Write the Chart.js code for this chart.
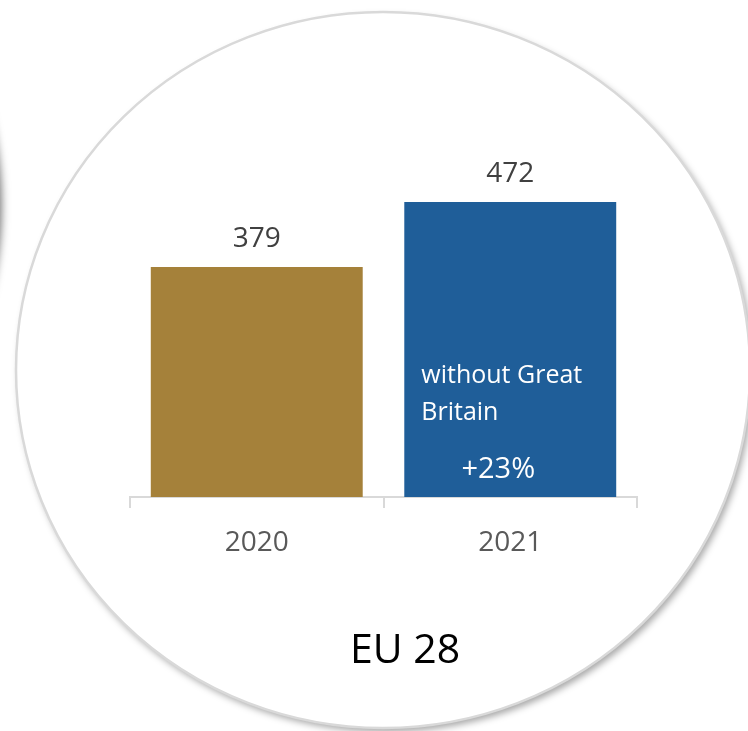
<!DOCTYPE html>
<html lang="en">
    <head>
        <meta charset="UTF-8">
        <title>EU 28</title>
        <script src="https://cdn.jsdelivr.net/npm/chart.js"></script>
        <style>
            body { margin: 0; background: #fff; }
            #wrap { position: absolute; left: 0; top: 0; width: 748px; height: 731px; }
        </style>
    </head>
    <body>
        <div id="wrap"><canvas id="eu"></canvas></div>
    </body>
    <script>
        // Data
        const years = ['2020', '2021'];
        const values = [379, 472];
        const barColors = ['#A5813A', '#1F5E99'];
        const noteLines = ['without Great', 'Britain'];
        const growthText = '+23%';
        const regionTitle = 'EU 28';

        const FONT = '"Open Sans", "Noto Sans", sans-serif';

        // circle backdrop + leftover shadow of the neighbour circle
        const backdrop = {
            id: 'backdrop',
            beforeDraw(chart) {
                const ctx = chart.ctx;
                ctx.save();
                // neighbour circle, just off the left edge
                ctx.shadowColor = 'rgba(0,0,0,0.6)';
                ctx.shadowBlur = 10;
                ctx.shadowOffsetX = 3;
                ctx.beginPath();
                ctx.ellipse(-362, 205, 360, 360, 0, 0, Math.PI * 2);
                ctx.fillStyle = '#fff';
                ctx.fill();
                // main circle
                ctx.shadowColor = 'rgba(0,0,0,0.35)';
                ctx.shadowBlur = 7;
                ctx.shadowOffsetX = 3;
                ctx.shadowOffsetY = 4;
                ctx.beginPath();
                ctx.ellipse(383, 370, 367, 358, 0, 0, Math.PI * 2);
                ctx.fill();
                ctx.shadowColor = 'transparent';
                ctx.lineWidth = 2.5;
                ctx.strokeStyle = '#d9d9d9';
                ctx.stroke();
                ctx.restore();
            }
        };

        // value labels, note inside the 2021 bar, region title
        const labels = {
            id: 'labels',
            afterDatasetsDraw(chart) {
                const ctx = chart.ctx;
                const bars = chart.getDatasetMeta(0).data;
                const bottom = chart.chartArea.bottom;
                ctx.save();
                ctx.textAlign = 'center';
                ctx.textBaseline = 'alphabetic';
                ctx.fillStyle = '#404040';
                ctx.font = '28px ' + FONT;
                bars.forEach((bar, i) => {
                    ctx.fillText(values[i], bar.x, bar.y - 20);
                });

                const last = bars[bars.length - 1];
                ctx.fillStyle = '#ffffff';
                ctx.textAlign = 'left';
                ctx.font = '25px ' + FONT;
                noteLines.forEach((line, i) => {
                    ctx.fillText(line, last.x - last.width / 2 + 17, bottom - 114 + i * 37);
                });
                ctx.textAlign = 'center';
                ctx.font = '29px ' + FONT;
                ctx.fillText(growthText, last.x - 12, bottom - 19);

                ctx.fillStyle = '#000000';
                ctx.font = '41px ' + FONT;
                ctx.fillText(regionTitle, 405, 663);
                ctx.restore();
            }
        };

        new Chart(document.getElementById('eu'), {
            type: 'bar',
            data: {
                labels: years,
                datasets: [{
                    data: values,
                    backgroundColor: barColors,
                    borderWidth: 0,
                    categoryPercentage: 1,
                    barPercentage: 0.836
                }]
            },
            options: {
                responsive: true,
                maintainAspectRatio: false,
                animation: false,
                layout: { padding: { left: 130, right: 111, top: 147.5, bottom: 134 } },
                plugins: {
                    legend: { display: false },
                    tooltip: { enabled: false }
                },
                scales: {
                    x: {
                        afterFit: s => { s.height = 100; },
                        border: { color: '#d9d9d9', width: 2 },
                        grid: {
                            offset: true,
                            drawOnChartArea: false,
                            drawTicks: true,
                            tickLength: 11,
                            color: '#d9d9d9',
                            lineWidth: 2
                        },
                        ticks: {
                            color: '#595959',
                            padding: 18,
                            font: { family: FONT, size: 28 }
                        }
                    },
                    y: {
                        display: false,
                        min: 50,
                        max: 550
                    }
                }
            },
            plugins: [backdrop, labels]
        });
    </script>
</html>
